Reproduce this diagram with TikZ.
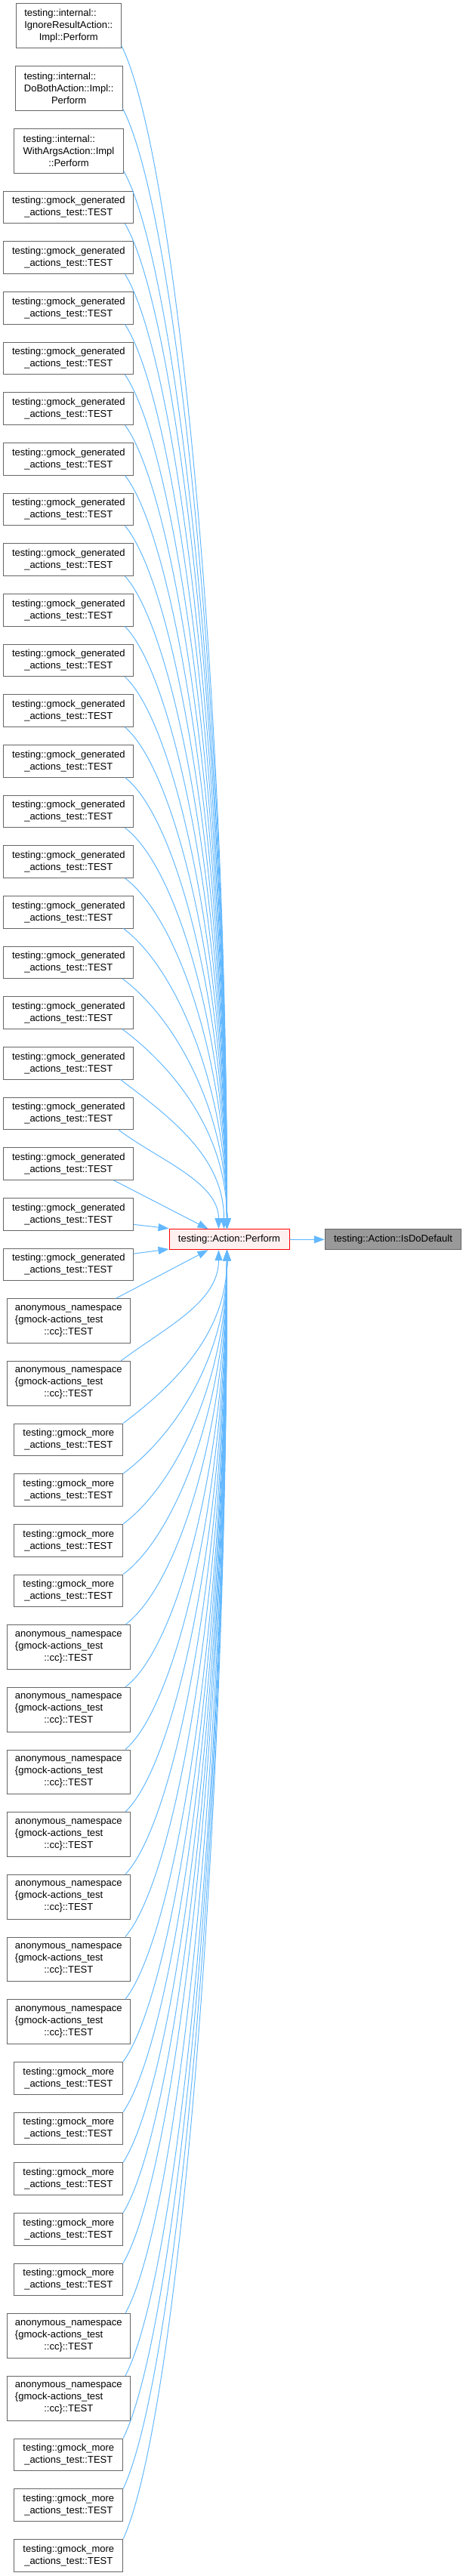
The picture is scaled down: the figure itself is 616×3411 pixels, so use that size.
\documentclass[tikz,border=0pt]{standalone}
\usepackage{fontspec}
\setmainfont{Liberation Sans}
\usetikzlibrary{arrows.meta}
\definecolor{edgeblue}{HTML}{63B8FF}
\definecolor{bordergrey}{HTML}{666666}
\definecolor{perffill}{HTML}{FFF0F0}
\definecolor{isdofill}{HTML}{999999}
\tikzset{
  box/.style={draw=bordergrey, fill=white, line width=1pt, inner sep=0pt, align=center,
    font=\fontsize{13}{16}\selectfont, text=black},
  ibox/.style={box, minimum height=58.67pt},
  gbox/.style={box, minimum width=171.7pt, minimum height=42.67pt},
  abox/.style={box, minimum width=163.3pt, minimum height=58.67pt},
  mbox/.style={box, minimum width=143.7pt, minimum height=42.67pt},
  edge/.style={draw=edgeblue, line width=1pt, -{Triangle[length=14pt,width=10pt,fill=edgeblue]}},
}
\newcommand\lal[2]{\rlap{#1}\phantom{#2}}
\newcommand\upedge[2]{%
  \pgfmathsetmacro\ka{min(70,0.4*#2)}%
  \pgfmathsetmacro\kb{max(0.09*#2,0.75*\ka)}%
  \pgfmathsetmacro\kc{0.47*#2}%
  \pgfmathsetmacro\exo{#2<100 ? 52 : (#2<170 ? 66 : (#2<230 ? 73 : 77))}%
  \ifdim #2pt<100pt
    \draw[edge] (#1) -- ([xshift=\exo pt]perf.north west);
  \else
    \draw[edge] (#1) .. controls +(\ka,\kb) and +(0,-\kc) .. ([xshift=\exo pt]perf.north west);
  \fi
}
\newcommand\downedge[2]{%
  \pgfmathsetmacro\ka{min(70,0.4*#2)}%
  \pgfmathsetmacro\kb{max(0.09*#2,0.75*\ka)}%
  \pgfmathsetmacro\kc{0.47*#2}%
  \pgfmathsetmacro\exo{#2<100 ? 52 : (#2<170 ? 66 : (#2<230 ? 73 : 77))}%
  \ifdim #2pt<100pt
    \draw[edge] (#1) -- ([xshift=\exo pt]perf.south west);
  \else
    \draw[edge] (#1) .. controls +(\ka,-\kb) and +(0,\kc) .. ([xshift=\exo pt]perf.south west);
  \fi
}
\begin{document}
\begin{tikzpicture}[x=1pt,y=-1pt]
\useasboundingbox (0,0) rectangle (616,3411);
% central nodes
\node[box, fill=perffill, draw=red, minimum width=159pt, minimum height=27pt] (perf) at (303.5,1641.2) {testing::Action::Perform};
\node[box, fill=isdofill, minimum width=180.4pt, minimum height=26.7pt] (isdo) at (520.5,1641.3) {testing::Action::IsDoDefault};
% internal callers
\node[ibox, minimum width=139pt] (i1) at (90.8,34.33) {\lal{testing::internal::}{IgnoreResultAction::}\\IgnoreResultAction::\\Impl::Perform};
\node[ibox, minimum width=141.7pt] (i2) at (91.15,117) {\lal{testing::internal::}{DoBothAction::Impl::}\\DoBothAction::Impl::\\Perform};
\node[ibox, minimum width=144.6pt] (i3) at (91,199.67) {\lal{testing::internal::}{WithArgsAction::Impl}\\WithArgsAction::Impl\\::Perform};
% gmock_generated callers
\foreach \k in {0,...,21}{
  \pgfmathsetmacro\yc{274.33+66.6667*\k}
  \node[gbox] (g\k) at (90.8,\yc) {testing::gmock\_generated\\\_actions\_test::TEST};
}
% anonymous namespace callers
\foreach \n/\tp in {a1/1719.67, a2/1802.33, a3/2151.67, a4/2234.33, a5/2317, a6/2399.67, a7/2482.33, a8/2565, a9/2647.67, a10/3063.67, a11/3146.33}{
  \node[abox] (\n) at (90.8,{\tp+29.33}) {anonymous\_namespace\\\lal{\{gmock-actions\_test}{anonymous\_namespace}\\::cc\}::TEST};
}
% gmock_more callers
\foreach \n/\tp in {m1/1885, m2/1951.67, m3/2018.33, m4/2085, m5/2730.33, m6/2797, m7/2863.67, m8/2930.33, m9/2997, m10/3229, m11/3295.67, m12/3362.33}{
  \node[mbox] (\n) at (90.8,{\tp+21.33}) {testing::gmock\_more\\\_actions\_test::TEST};
}
% edges
\upedge{[yshift=3.7pt]i1.south east}{1567.7}
\upedge{[yshift=3pt]i2.south east}{1484.4}
\upedge{[yshift=3pt]i3.south east}{1401.7}
\foreach \k in {0,...,19}{
  \pgfmathsetmacro\D{1627.7-(295.67+66.6667*\k)}
  \pgfmathsetmacro\sxo{\D<100 ? -26.7 : (\D<170 ? -20 : (\D<230 ? -17.7 : (\D<300 ? -15 : (\D<360 ? -14.7 : (\D<420 ? -13.7 : -11.7)))))}
  \upedge{[xshift=\sxo pt]g\k.south east}{\D}
}
\draw[edge] ([yshift=-13.7pt]g20.east) -- ([yshift=14.5pt]perf.west);
\draw[edge] ([yshift=14.3pt]g21.east) -- ([yshift=-12.8pt]perf.west);
\foreach \n/\tp/\sx in {a1/1719.67/-19.4, a2/1802.33/-12.7, m1/1885/0, m2/1951.67/0, m3/2018.33/0, m4/2085/0, a3/2151.67/-7, a4/2234.33/-7, a5/2317/-7, a6/2399.67/-7, a7/2482.33/-7, a8/2565/-7, a9/2647.67/-7, m5/2730.33/0, m6/2797/0, m7/2863.67/0, m8/2930.33/0, m9/2997/0, a10/3063.67/-7, a11/3146.33/-7, m10/3229/0, m11/3295.67/0, m12/3362.33/0}{
  \pgfmathsetmacro\D{\tp-1654.7}
  \downedge{[xshift=\sx pt]\n.north east}{\D}
}
\draw[edge] (perf) -- (isdo);
\end{tikzpicture}
\end{document}
